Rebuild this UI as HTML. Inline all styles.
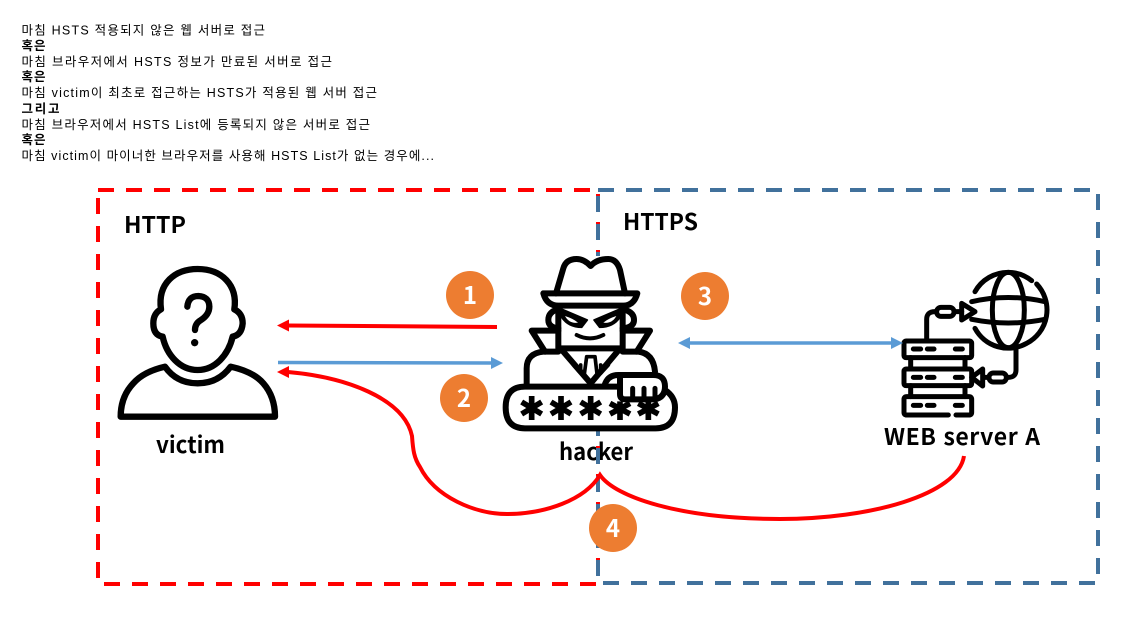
<!DOCTYPE html>
<html lang="ko">
<head>
<meta charset="utf-8">
<style>
html,body{margin:0;padding:0;background:#fff;}
svg{display:block;}
.t{font-family:"Liberation Sans","Noto Sans CJK KR",sans-serif;font-size:12.5px;fill:#000;}
.b{font-family:"Liberation Sans","Noto Sans CJK KR",sans-serif;font-weight:bold;fill:#000;}
.n{font-family:"Noto Sans CJK KR","Liberation Sans",sans-serif;font-weight:bold;fill:#000;}
.c{font-family:"Noto Sans CJK KR","Liberation Sans",sans-serif;font-weight:bold;fill:#fff;font-size:24px;text-anchor:middle;}
</style>
</head>
<body>
<svg width="1148" height="625" viewBox="0 0 1148 625" xmlns="http://www.w3.org/2000/svg">
<rect width="1148" height="625" fill="#fff"/>

<text class="t" x="21.5" y="34.5" textLength="243.5" lengthAdjust="spacing">마침 HSTS 적용되지 않은 웹 서버로 접근</text>
<text class="b" font-size="12.5" x="21.5" y="50" textLength="24" lengthAdjust="spacing">혹은</text>
<text class="t" x="21.5" y="66" textLength="310.5" lengthAdjust="spacing">마침 브라우저에서 HSTS 정보가 만료된 서버로 접근</text>
<text class="b" font-size="12.5" x="21.5" y="81" textLength="24" lengthAdjust="spacing">혹은</text>
<text class="t" x="21.5" y="97" textLength="355.5" lengthAdjust="spacing">마침 victim이 최초로 접근하는 HSTS가 적용된 웹 서버 접근</text>
<text class="b" font-size="12.5" x="21.5" y="113" textLength="38" lengthAdjust="spacing">그리고</text>
<text class="t" x="21.5" y="129" textLength="348.5" lengthAdjust="spacing">마침 브라우저에서 HSTS List에 등록되지 않은 서버로 접근</text>
<text class="b" font-size="12.5" x="21.5" y="144" textLength="24" lengthAdjust="spacing">혹은</text>
<text class="t" x="21.5" y="160" textLength="412.5" lengthAdjust="spacing">마침 victim이 마이너한 브라우저를 사용해 HSTS List가 없는 경우에...</text>

<rect x="98" y="190" width="500" height="394" fill="none" stroke="#FF0000" stroke-width="4" stroke-dasharray="16 12"/>
<rect x="598" y="190" width="500" height="393" fill="none" stroke="#41719C" stroke-width="4" stroke-dasharray="16 12"/>

<text class="n" font-size="23" x="124" y="233" textLength="62" lengthAdjust="spacingAndGlyphs">HTTP</text>
<text class="n" font-size="23" x="623" y="230" textLength="75" lengthAdjust="spacingAndGlyphs">HTTPS</text>
<text class="n" font-size="23" x="156" y="453" textLength="69" lengthAdjust="spacingAndGlyphs">victim</text>
<text class="n" font-size="23" x="559" y="460" textLength="74" lengthAdjust="spacingAndGlyphs">hacker</text>
<text class="n" font-size="23" x="884" y="445" textLength="156" lengthAdjust="spacing">WEB server A</text>

<!-- re-draw dash over the hacker label -->
<line x1="598" y1="448" x2="598" y2="464" stroke="#41719C" stroke-width="4"/>
<line x1="598" y1="446" x2="598" y2="448" stroke="#FF0000" stroke-width="4"/>

<!-- white image backing -->
<rect x="590" y="256" width="16" height="175" fill="#fff"/>

<!-- victim -->
<g transform="translate(100,260) scale(0.33333)" fill="none" stroke="#000" stroke-width="19" stroke-linejoin="round" stroke-linecap="round">
<path d="M183,148 C172,70 225,27 293,27 C365,27 414,75 403,148 Q428,160 428,190 Q425,225 398,230 C385,285 345,330 293,330 C240,330 200,285 188,230 Q160,225 160,190 Q160,160 183,148Z"/>
<path d="M262,140 Q265,108 295,108 Q328,110 328,140 Q328,165 300,182 Q285,192 285,210"/>
<circle cx="284" cy="248" r="11" fill="#000" stroke="none"/>
<path d="M195,320 Q230,370 293,370 Q355,370 392,320 Q460,335 490,370 Q525,410 525,470 H62 Q62,410 100,370 Q130,335 195,320Z"/>
</g>

<!-- hacker -->
<g transform="translate(480,240) scale(0.33333)" fill="none" stroke="#000" stroke-width="18" stroke-linejoin="round" stroke-linecap="round">
<path d="M228,160 L250,85 Q258,57 290,57 Q312,57 332,78 Q350,57 385,57 Q410,57 420,90 L435,160"/>
<path d="M190,160 H472 Q462,197 430,197 H235 Q200,197 190,160Z"/>
<path d="M235,200 V325 H428 V200"/>
<path d="M235,208 Q205,215 205,240 Q205,262 235,265 M428,208 Q462,215 462,240 Q462,262 428,265"/>
<path d="M240,205 L322,240 L305,262 Q265,262 245,232Z" fill="#000" stroke-width="5"/>
<path d="M424,205 L342,240 L359,262 Q400,262 420,232Z" fill="#000" stroke-width="5"/>
<path d="M255,228 Q280,236 294,248 Q268,252 255,228Z" fill="#fff" stroke="none"/>
<path d="M409,228 Q384,236 370,248 Q396,252 409,228Z" fill="#fff" stroke="none"/>
<path d="M290,285 Q330,305 370,285" stroke-width="12"/>
<path d="M235,272 H155 L195,335 M428,272 H510 L470,335"/>
<path d="M140,435 V385 Q140,340 190,335 H235 M428,335 H475 Q520,340 525,395"/>
<path d="M250,335 L332,430 L412,335"/>
<path d="M320,350 H345 M320,350 L312,410 M345,350 L352,410 M280,375 L302,400 L302,375 M385,375 L362,400 L362,375" stroke-width="11"/>
<path d="M135,440 H415 M135,440 Q77,440 77,502 Q77,565 135,565 H527 Q585,565 585,502 Q585,470 555,450"/>
<g stroke-width="17" stroke-linecap="butt">
<path d="M155,468 V540 M125,486 L185,522 M185,486 L125,522"/>
<path d="M243,468 V540 M213,486 L273,522 M273,486 L213,522"/>
<path d="M332,468 V540 M302,486 L362,522 M362,486 L302,522"/>
<path d="M420,484 V540 M390,490 L450,522 M450,490 L390,522"/>
<path d="M505,484 V540 M475,490 L535,522 M535,490 L475,522"/>
</g>
<path d="M375,432 Q385,405 415,405 H520 Q555,405 555,440 Q555,472 525,478 H435 Q420,478 420,462 V415" fill="#fff"/>
<path d="M458,445 V478 M492,445 V478 M525,445 V478" stroke-width="15"/>
</g>

<!-- server / globe -->
<g transform="translate(880,260) scale(0.33333)" fill="none" stroke="#000" stroke-width="15" stroke-linejoin="round" stroke-linecap="round">
<path d="M470,72 A113,113 0 0,1 440,250 A113,113 0 0,1 285,205"/>
<path d="M285,95 A113,113 0 0,1 385,37 A113,113 0 0,1 455,62"/>
<ellipse cx="385" cy="150" rx="48" ry="113"/>
<path d="M275,125 Q385,100 495,125 M275,178 Q385,200 495,178"/>
<path d="M245,130 L285,155 L245,180Z" fill="#fff"/>
<path d="M140,240 V178 Q140,155 165,155"/>
<rect x="170" y="142" width="52" height="27" rx="13"/>
<path d="M222,155 H245"/>
<rect x="72" y="243" width="203" height="50" rx="6"/>
<rect x="72" y="327" width="203" height="50" rx="6"/>
<path d="M205,465 H80 Q72,465 72,457 V418 Q72,410 80,410 H267 Q275,410 275,418 V457 Q275,465 267,465 H228"/>
<path d="M92,293 V327 M255,293 V327 M92,377 V410 M255,377 V410"/>
<path d="M100,267 H122 M142,267 H162 M226,267 H247 M100,352 H122 M142,352 H162 M226,352 H247 M100,436 H122 M142,436 H162 M226,436 H247"/>
<path d="M408,270 V330 Q408,352 385,352"/>
<rect x="327" y="339" width="52" height="27" rx="13"/>
<path d="M327,352 H308"/>
<path d="M308,327 L275,352 L308,378Z" fill="#fff"/>
</g>

<!-- connectors -->
<g fill="none">
<line x1="288" y1="325.5" x2="497" y2="327" stroke="#FF0000" stroke-width="4"/>
<line x1="278" y1="362.5" x2="492" y2="363" stroke="#5B9BD5" stroke-width="3.5"/>
<line x1="688" y1="343" x2="892" y2="343" stroke="#5B9BD5" stroke-width="3.5"/>
<path d="M288,372 C345,377 404,398 412,436 C413,450 414,458 420,467 C435,497 475,514 507,514 C545,514 585,500 600,475 C615,497 680,519 780,519 C870,519 958,495 964,456" stroke="#FF0000" stroke-width="4"/>
</g>
<polygon points="277,325.5 289,319.5 289,331.5" fill="#FF0000"/>
<polygon points="277,372 289,366 289,378" fill="#FF0000"/>
<polygon points="503,363 491,357 491,369" fill="#5B9BD5"/>
<polygon points="678,343 690,337 690,349" fill="#5B9BD5"/>
<polygon points="903,343 891,337 891,349" fill="#5B9BD5"/>

<!-- number badges -->
<circle cx="470" cy="295" r="24" fill="#ED7D31"/>
<text class="c" x="470" y="304">1</text>
<circle cx="464" cy="398" r="24" fill="#ED7D31"/>
<text class="c" x="464" y="407">2</text>
<circle cx="705" cy="296" r="24" fill="#ED7D31"/>
<text class="c" x="705" y="305">3</text>
<circle cx="613" cy="528" r="24" fill="#ED7D31"/>
<text class="c" x="613" y="537">4</text>
</svg>
</body>
</html>
